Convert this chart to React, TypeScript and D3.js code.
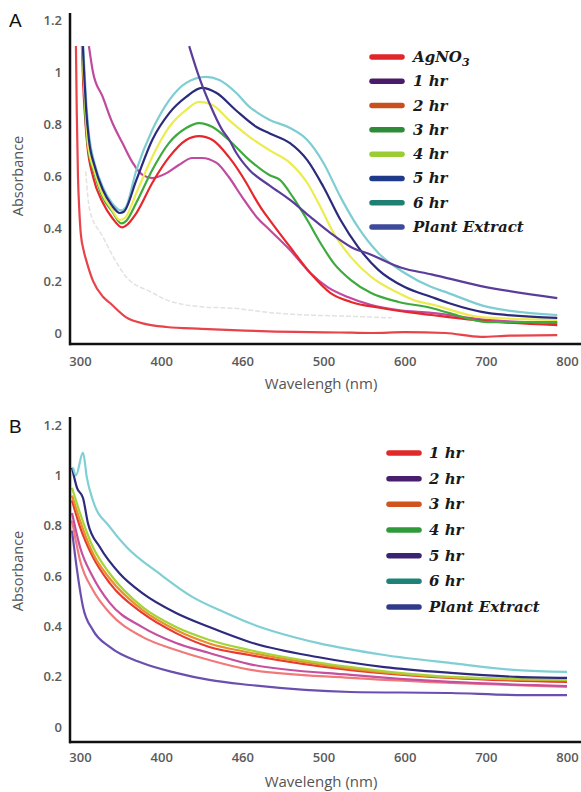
import React, { useEffect, useRef } from 'react'
import * as d3 from 'd3'

// axis ticks shared by both panels
const xTicks = [300, 400, 460, 500, 600, 700, 800]
const yTicks = [0, 0.2, 0.4, 0.6, 0.8, 1, 1.2]

// ---- panel A : [wavelength, absorbance]
const aAgNO3 = [[295, 1.1], [296, 0.85], [297.5, 0.6], [299, 0.48], [301, 0.38], [305, 0.31], [308.5, 0.27], [316, 0.2], [328, 0.14], [337, 0.115], [357, 0.06], [380, 0.035], [404, 0.023], [430, 0.016], [453, 0.011], [486, 0.004], [520, 0.002], [560, 0.0], [600, 0.003], [650, 0.0], [694, -0.015], [730, -0.01], [788, -0.008]]
const aGrey = [[307, 0.62], [312, 0.47], [328, 0.37], [349, 0.25], [357, 0.215], [389, 0.155], [404, 0.127], [431, 0.1], [453, 0.095], [474, 0.078], [489, 0.07], [534, 0.064], [584, 0.058]]
const aMagenta = [[311, 1.1], [316, 1.0], [328, 0.905], [340, 0.805], [352, 0.73], [365, 0.652], [377, 0.606], [389, 0.594], [404, 0.613], [413, 0.644], [423, 0.671], [430, 0.671], [441, 0.652], [450, 0.598], [460, 0.52], [467, 0.445], [473.5, 0.395], [483.5, 0.318], [493.5, 0.23], [505, 0.176], [530, 0.138], [559, 0.107], [592, 0.088], [633, 0.077], [702, 0.05], [788, 0.038]]
const aRed = [[302.4, 1.1], [304, 0.95], [306, 0.84], [309, 0.72], [316, 0.6], [328, 0.5], [340, 0.44], [352, 0.405], [356, 0.41], [369.5, 0.46], [389, 0.575], [406, 0.675], [418.5, 0.74], [428, 0.755], [438, 0.74], [450, 0.675], [462, 0.575], [466, 0.52], [470, 0.47], [473.5, 0.433], [483.5, 0.33], [493.5, 0.23], [508.75, 0.153], [533.75, 0.119], [571, 0.096], [612, 0.077], [633, 0.069], [702, 0.045], [788, 0.03]]
const aGreen = [[303, 1.1], [305, 0.95], [306.5, 0.84], [310, 0.71], [318, 0.61], [328, 0.52], [339, 0.47], [351, 0.42], [357, 0.43], [369.5, 0.5], [389, 0.625], [406, 0.73], [418.5, 0.786], [428, 0.805], [438, 0.79], [450, 0.74], [463.5, 0.663], [473.5, 0.605], [478.5, 0.587], [485, 0.52], [492, 0.433], [498.5, 0.345], [512.5, 0.268], [533.75, 0.203], [558.75, 0.153], [592.5, 0.119], [633, 0.096], [654, 0.077], [702, 0.042], [788, 0.042]]
const aYellow = [[303, 1.1], [305, 0.96], [307, 0.85], [310, 0.72], [318, 0.62], [328, 0.53], [339, 0.475], [349, 0.433], [355, 0.44], [369.5, 0.537], [389, 0.675], [406, 0.79], [418.5, 0.855], [428, 0.886], [438, 0.874], [450, 0.817], [463.5, 0.752], [473.5, 0.7], [483.5, 0.652], [492, 0.575], [498.5, 0.483], [512.5, 0.383], [533.75, 0.291], [558.75, 0.215], [592.5, 0.153], [612, 0.125], [633, 0.11], [694, 0.061], [788, 0.05]]
const aNavy = [[303.5, 1.1], [305.5, 0.97], [307.5, 0.86], [311, 0.74], [318, 0.64], [328, 0.55], [339, 0.49], [349, 0.46], [354, 0.465], [369.5, 0.587], [389, 0.74], [406, 0.843], [418.5, 0.905], [430, 0.94], [441, 0.92], [455, 0.855], [467, 0.79], [473.5, 0.765], [483.5, 0.728], [492, 0.663], [500, 0.56], [521, 0.433], [542.5, 0.33], [567.5, 0.242], [600, 0.176], [633, 0.138], [654, 0.115], [702, 0.077], [788, 0.058]]
const aCyan = [[304, 1.1], [306, 0.98], [308, 0.87], [311.5, 0.75], [318, 0.65], [328, 0.56], [339, 0.5], [351, 0.47], [356, 0.48], [369.5, 0.625], [389, 0.778], [406, 0.893], [418.5, 0.959], [433, 0.982], [443, 0.97], [455.6, 0.92], [463.5, 0.867], [467, 0.847], [473.5, 0.817], [483.5, 0.786], [492, 0.74], [500, 0.652], [521, 0.521], [542.5, 0.406], [567.5, 0.307], [600, 0.23], [633, 0.176], [654, 0.153], [702, 0.1], [788, 0.069]]
const aPlant = [[420.7, 1.1], [428, 0.982], [435.6, 0.882], [445.2, 0.778], [450.4, 0.74], [455.6, 0.69], [463.5, 0.625], [473.5, 0.565], [483.5, 0.51], [493.5, 0.445], [508.75, 0.383], [533.75, 0.33], [558.75, 0.3], [596, 0.25], [633, 0.225], [694, 0.18], [788, 0.134]]

const aSeries = [aGrey, aAgNO3, aMagenta, aRed, aGreen, aYellow, aCyan, aNavy, aPlant]
const aColors = ['#e2e2e2', '#e8424a', '#c04aa0', '#e6282c', '#3eaa3e', '#ecec50', '#7dcdd3', '#2b2a7c', '#5a3d9a']

const legendA = ['AgNO', '1 hr', '2 hr', '3 hr', '4 hr', '5 hr', '6 hr', 'Plant Extract']
const legendColorsA = ['#e0262b', '#4a1a6b', '#c8501c', '#2e8b3a', '#9acd32', '#1f3a8a', '#1e7f72', '#3e4a9a']

// ---- panel B
const bCyan = [[291.5, 1.03], [295, 1.0], [303.7, 1.09], [308.5, 0.99], [315.9, 0.9], [336.6, 0.795], [357.3, 0.715], [397.6, 0.61], [423, 0.517], [448, 0.453], [463.5, 0.413], [497, 0.334], [575, 0.286], [657, 0.254], [739, 0.226], [800, 0.219]]
const bNavy = [[290.2, 1.03], [296.3, 0.95], [303.7, 0.91], [309.8, 0.81], [324.4, 0.715], [348.8, 0.61], [376.8, 0.532], [411, 0.453], [435.6, 0.397], [463.5, 0.338], [497, 0.278], [575, 0.238], [657, 0.215], [739, 0.199], [800, 0.195]]
const bLime = [[290.2, 0.95], [300, 0.85], [315.9, 0.715], [336.6, 0.61], [376.8, 0.477], [411, 0.397], [435.6, 0.346], [463.5, 0.306], [533.75, 0.238], [657, 0.199], [800, 0.187]]
const bOrange = [[290.2, 0.92], [300, 0.82], [315.9, 0.69], [336.6, 0.59], [376.8, 0.465], [411, 0.385], [435.6, 0.332], [463.5, 0.296], [533.75, 0.232], [657, 0.197], [800, 0.185]]
const bRed = [[290.2, 0.9], [300, 0.795], [315.9, 0.675], [336.6, 0.572], [376.8, 0.453], [411, 0.373], [435.6, 0.318], [463.5, 0.286], [533.75, 0.226], [657, 0.195], [800, 0.179]]
const bMagenta = [[290.2, 0.85], [300, 0.715], [315.9, 0.596], [336.6, 0.493], [376.8, 0.397], [411, 0.334], [435.6, 0.294], [463.5, 0.25], [533.75, 0.207], [657, 0.179], [800, 0.163]]
const bPink = [[290.2, 0.82], [300, 0.663], [315.9, 0.544], [336.6, 0.453], [376.8, 0.358], [411, 0.306], [435.6, 0.266], [463.5, 0.228], [533.75, 0.195], [657, 0.175], [800, 0.159]]
const bPurple = [[290.2, 0.78], [296.3, 0.624], [303.7, 0.477], [315.9, 0.385], [336.6, 0.318], [376.8, 0.254], [411, 0.215], [435.6, 0.187], [463.5, 0.167], [533.75, 0.139], [657, 0.135], [739, 0.127], [800, 0.127]]

const bSeries = [bPurple, bPink, bMagenta, bRed, bOrange, bLime, bNavy, bCyan]
const bColors = ['#6b4fae', '#f07a7a', '#c4509e', '#e83a30', '#e8902a', '#a6d23a', '#2e2a7e', '#7fcfd4']

const legendB = ['1 hr', '2 hr', '3 hr', '4 hr', '5 hr', '6 hr', 'Plant Extract']
const legendColorsB = ['#e02a2a', '#4a1e6e', '#d0541e', '#2e9a3a', '#3b2373', '#1f8276', '#2f3b8a']

const W = 581, H = 792
const tickFont = '"Open Sans", sans-serif'
const legendFont = '"DejaVu Serif", serif'

function drawPanel(svg, p) {
  const g = svg.append('g')

  // x: tick labels are evenly spaced
  const xi = d3.scaleLinear().domain([0, xTicks.length - 1]).range([80, 567])
  const x = d3.scaleLinear().domain(xTicks).range(xTicks.map((_, i) => xi(i)))
  const y = d3.scaleLinear().domain([0, 1.2]).range([p.y0, p.y12])

  const line = d3.line().x(d => x(d[0])).y(d => y(d[1])).curve(d3.curveMonotoneX)

  p.series.forEach((s, i) => {
    const faint = i === 0 && p.faintFirst
    g.append('path')
      .datum(s)
      .attr('fill', 'none')
      .attr('stroke', p.colors[i])
      .attr('stroke-width', faint ? 1.5 : 2.2)
      .attr('stroke-dasharray', faint ? '5 2' : null)
      .attr('d', line)
  })

  // axes
  const ya = g.append('g')
    .attr('transform', 'translate(70,0)')
    .call(d3.axisLeft(y).tickValues(yTicks).tickSize(0).tickPadding(8).tickFormat(d => String(d)))
  const xa = g.append('g')
    .attr('transform', `translate(0,${p.axisY})`)
    .call(d3.axisBottom(x).tickValues(xTicks).tickSize(0).tickPadding(p.xPad).tickFormat(d => String(d)))
  ;[ya, xa].forEach(a => {
    a.select('.domain').remove()
    a.selectAll('text')
      .attr('fill', '#5a5a5a')
      .style('font-family', tickFont)
      .style('font-size', '13px')
      .style('font-weight', 600)
  })

  g.append('line').attr('x1', 70).attr('x2', 70).attr('y1', p.axisTop).attr('y2', p.axisY + 1.2)
    .attr('stroke', '#111').attr('stroke-width', 2.5)
  g.append('line').attr('x1', 69).attr('x2', W).attr('y1', p.axisY).attr('y2', p.axisY)
    .attr('stroke', '#111').attr('stroke-width', 2.5)

  // titles
  g.append('text').attr('x', 321).attr('y', p.xTitleY).attr('text-anchor', 'middle')
    .attr('fill', '#555').style('font-family', tickFont).style('font-size', '15px')
    .text('Wavelengh (nm)')
  g.append('text').attr('transform', `translate(23,${p.yTitleY}) rotate(-90)`).attr('text-anchor', 'middle')
    .attr('fill', '#555').style('font-family', tickFont).style('font-size', '14.5px')
    .text('Absorbance')
  g.append('text').attr('x', 9).attr('y', p.letterY).attr('fill', '#111')
    .style('font-family', '"Liberation Sans", Arial, sans-serif').style('font-size', '19px')
    .text(p.letter)

  // legend
  const ly = d3.scaleLinear().domain([0, p.legend.length - 1]).range(p.legendY)
  p.legend.forEach((name, i) => {
    const yy = ly(i)
    g.append('line').attr('x1', p.swX).attr('x2', p.swX + 30).attr('y1', yy).attr('y2', yy)
      .attr('stroke', p.legendColors[i]).attr('stroke-width', 5.5).attr('stroke-linecap', 'round')
    const t = g.append('text').attr('x', p.txX).attr('y', yy + 5).attr('fill', '#1a1a1a')
      .style('font-family', legendFont).style('font-size', '15px')
      .style('font-weight', 'bold').style('font-style', 'italic')
      .text(name)
    if (name === 'AgNO') {
      t.append('tspan').attr('dy', 4).style('font-size', '11px').text('3')
    }
  })
}

export default function App() {
  const ref = useRef(null)

  useEffect(() => {
    const svg = d3.select(ref.current)
    svg.selectAll('*').remove()

    drawPanel(svg, {
      series: aSeries, colors: aColors, faintFirst: true,
      y0: 333, y12: 20, axisTop: 13, axisY: 344, xPad: 13, xTitleY: 389, yTitleY: 176,
      letter: 'A', letterY: 27,
      legend: legendA, legendColors: legendColorsA, legendY: [57, 227], swX: 372, txX: 413
    })
    drawPanel(svg, {
      series: bSeries, colors: bColors, faintFirst: false,
      y0: 727, y12: 425, axisTop: 417, axisY: 742, xPad: 10.5, xTitleY: 787, yTitleY: 571,
      letter: 'B', letterY: 433,
      legend: legendB, legendColors: legendColorsB, legendY: [453, 607], swX: 389, txX: 429
    })
  }, [])

  return (
    <svg ref={ref} width={W} height={H}
      style={{ position: 'absolute', left: 0, top: 0, background: '#fff' }} />
  )
}
